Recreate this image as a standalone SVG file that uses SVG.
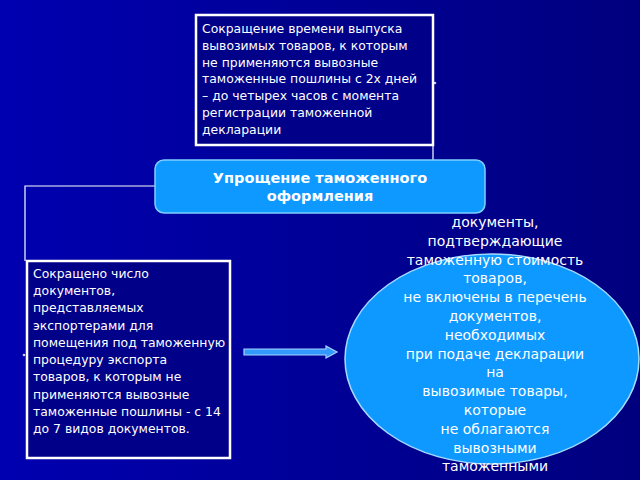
<svg xmlns="http://www.w3.org/2000/svg" width="640" height="480" viewBox="0 0 640 480">
  <defs>
    <linearGradient id="bg" x1="0" y1="0" x2="1" y2="0">
      <stop offset="0" stop-color="#0000b0"/>
      <stop offset="1" stop-color="#00007e"/>
    </linearGradient>
    <style>
      .box { fill: #000088; stroke: #ffffff; stroke-width: 2.5; }
      .t { font-family: "DejaVu Sans", Verdana, sans-serif; font-size: 12.4px; fill: #ffffff; }
      .tb { font-family: "DejaVu Sans", Verdana, sans-serif; font-size: 14.5px; font-weight: bold; fill: #ffffff; text-anchor: middle; }
      .te { font-family: "DejaVu Sans", Verdana, sans-serif; font-size: 14px; fill: #ffffff; text-anchor: middle; }
      .conn { fill: none; stroke: #ffffff; stroke-width: 1.2; }
    </style>
  </defs>
  <rect x="0" y="0" width="640" height="480" fill="url(#bg)"/>

  <g id="connectors">
    <polyline class="conn" points="433,145 433,185 485,185"/>
    <polyline class="conn" points="155,186 25,186 25,261"/>
    <path d="M244,349 L326,349 L326,346 L337,352 L326,358 L326,355 L244,355 Z" fill="#3399ff" stroke="#a6d4ff" stroke-width="1.2"/>
    <circle cx="24" cy="355" r="1.3" fill="#ffffff" opacity="0.8"/>
    <circle cx="435" cy="83" r="1.3" fill="#ffffff" opacity="0.8"/>
  </g>

  <g id="top-box">
    <rect class="box" x="196" y="15" width="237" height="130"/>
    <text class="t" x="202" y="33">Сокращение времени выпуска</text>
    <text class="t" x="202" y="50">вывозимых товаров, к которым</text>
    <text class="t" x="202" y="67">не применяются вывозные</text>
    <text class="t" x="202" y="83">таможенные пошлины с 2х дней</text>
    <text class="t" x="202" y="100">– до  четырех часов с момента</text>
    <text class="t" x="202" y="117">регистрации таможенной</text>
    <text class="t" x="202" y="134">декларации</text>
  </g>

  <g id="main-node">
    <rect x="155" y="160" width="330" height="53" rx="9" ry="9" fill="#0d99ff" stroke="#7fcfff" stroke-width="1.5"/>
    <text class="tb" x="320" y="183">Упрощение таможенного</text>
    <text class="tb" x="320" y="201">оформления</text>
  </g>

  <g id="left-box">
    <rect class="box" x="27" y="261" width="203" height="197"/>
    <text class="t" x="33" y="278">Сокращено число</text>
    <text class="t" x="33" y="295">документов,</text>
    <text class="t" x="33" y="312">представляемых</text>
    <text class="t" x="33" y="330">экспортерами для</text>
    <text class="t" x="33" y="347">помещения под таможенную</text>
    <text class="t" x="33" y="364">процедуру экспорта</text>
    <text class="t" x="33" y="381">товаров, к которым не</text>
    <text class="t" x="33" y="399">применяются вывозные</text>
    <text class="t" x="33" y="416">таможенные пошлины - с 14</text>
    <text class="t" x="33" y="433">до 7 видов документов.</text>
  </g>

  <g id="ellipse-node">
    <ellipse cx="492" cy="359" rx="147" ry="105" fill="#0d99ff" stroke="#a6dcff" stroke-width="1.5"/>
    <text class="te" x="495" y="227">документы,</text>
    <text class="te" x="495" y="245.8">подтверждающие</text>
    <text class="te" x="495" y="264.6">таможенную стоимость</text>
    <text class="te" x="495" y="283.4">товаров,</text>
    <text class="te" x="495" y="302.2">не включены в перечень</text>
    <text class="te" x="495" y="321">документов,</text>
    <text class="te" x="495" y="339.8">необходимых</text>
    <text class="te" x="495" y="358.6">при подаче декларации</text>
    <text class="te" x="495" y="377.4">на</text>
    <text class="te" x="495" y="396.2">вывозимые товары,</text>
    <text class="te" x="495" y="415">которые</text>
    <text class="te" x="495" y="433.8">не облагаются</text>
    <text class="te" x="495" y="452.6">вывозными</text>
    <text class="te" x="495" y="471.4">таможенными</text>
  </g>
</svg>
